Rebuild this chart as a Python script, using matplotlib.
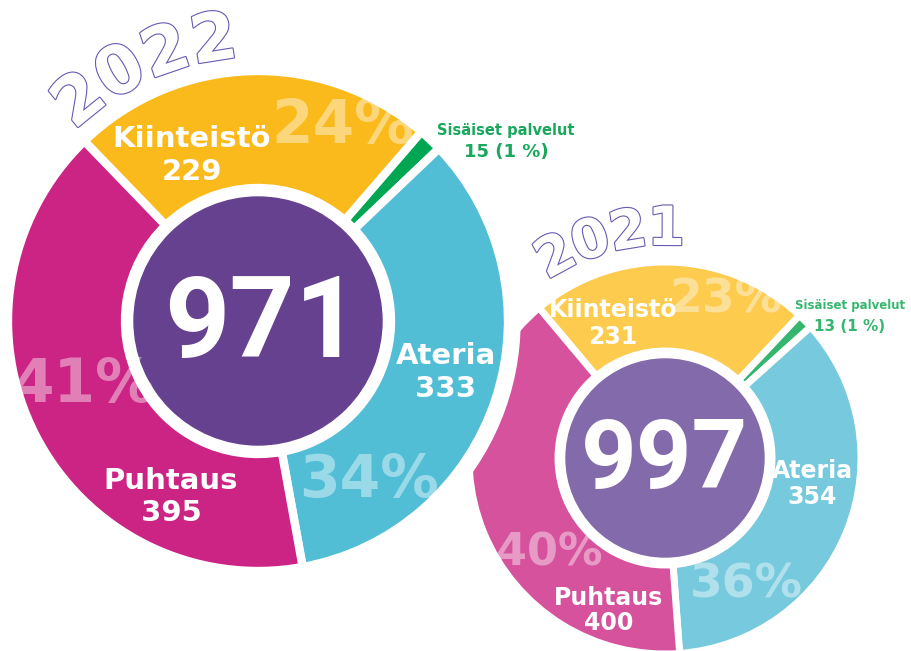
import numpy as np
import matplotlib
matplotlib.use('Agg')
import matplotlib.pyplot as plt
from matplotlib.patches import Circle
import matplotlib.patheffects as pe

W, H = 912, 651

# data
categories = ['Kiinteistö', 'Sisäiset palvelut', 'Ateria', 'Puhtaus']
values_2022 = [229, 15, 333, 395]
values_2021 = [231, 13, 354, 400]
pct_2022 = [24, 1, 34, 41]
pct_2021 = [23, 1, 36, 40]
total_2022 = 971
total_2021 = 997

colors_2022 = ['#FBBA1B', '#00A651', '#52BED6', '#CC2484']
colors_2021 = ['#FDCB4E', '#35B66F', '#77CADD', '#D6529D']
disc_2022 = '#65418F'
disc_2021 = '#836AAA'
outline = '#6A58B0'

FONT = 'DejaVu Sans'
BIG = 'Roboto'


def y(v):
    return H - v


def donut(ax, values, colors, cx, cy, r_out, r_in, r_disc, start, z, disc_col, lw):
    wedges, _ = ax.pie(values, colors=colors, startangle=start, counterclock=False,
                       radius=r_out, center=(cx, y(cy)),
                       wedgeprops=dict(width=r_out - r_in, edgecolor='white', linewidth=lw))
    for w in wedges:
        w.set_zorder(z)
    ax.add_patch(Circle((cx, y(cy)), r_disc, color=disc_col, zorder=z + 0.1))


def year_arc(ax, text, cx, cy, r, a0, step, size, z):
    for i, ch in enumerate(text):
        a = np.radians(a0 - i * step)
        ax.text(cx + r * np.cos(a), y(cy) + r * np.sin(a), ch, rotation=np.degrees(a) - 90,
                ha='center', va='center', fontsize=size, fontweight='bold', family=FONT,
                color='white', zorder=z,
                path_effects=[pe.withStroke(linewidth=1.6, foreground=outline)])


def lab(ax, x, yy, s, size, color='white', z=10, family=FONT):
    ax.text(x, y(yy), s, ha='center', va='center', fontsize=size, fontweight='bold',
            family=family, color=color, zorder=z)


fig = plt.figure(figsize=(W / 100, H / 100), dpi=100)
ax = fig.add_axes([0, 0, 1, 1])
ghost = (1, 1, 1, 0.42)

# 2021 (drawn behind)
donut(ax, values_2021, colors_2021, 665, 458, 196, 107, 99, 130, 1, disc_2021, 5)
year_arc(ax, '2021', 665, 458, 228, 118.5, 9.6, 39, 2)
lab(ax, 726, 300, f'{pct_2021[0]}%', 34, ghost, 2)
lab(ax, 746, 585, f'{pct_2021[2]}%', 34, ghost, 2)
lab(ax, 549, 553, f'{pct_2021[3]}%', 32, ghost, 2)
lab(ax, 613, 310, categories[0], 17, z=3)
lab(ax, 613, 337, str(values_2021[0]), 17, z=3)
lab(ax, 812, 471, categories[2], 17, z=3)
lab(ax, 812, 497, str(values_2021[2]), 17, z=3)
lab(ax, 609, 598, categories[3], 17, z=3)
lab(ax, 609, 623, str(values_2021[3]), 17, z=3)
lab(ax, 850, 306, categories[1], 8.5, '#35B66F', 3)
lab(ax, 850, 327, f'{values_2021[1]} ({pct_2021[1]} %)', 11, '#35B66F', 3)
lab(ax, 665, 462, str(total_2021), 70, z=3, family=BIG)

# white halo around 2022 chart
ax.add_patch(Circle((258, y(321)), 262, color='white', zorder=5))

# 2022
donut(ax, values_2022, colors_2022, 258, 321, 250, 133, 124, 134, 6, disc_2022, 6)
year_arc(ax, '2022', 258, 321, 283, 129, 10, 48, 7)
lab(ax, 343, 126, f'{pct_2022[0]}%', 43, ghost, 7)
lab(ax, 369, 480, f'{pct_2022[2]}%', 42, ghost, 7)
lab(ax, 84, 386, f'{pct_2022[3]}%', 43, ghost, 7)
lab(ax, 192, 139, categories[0], 21, z=8)
lab(ax, 192, 172, str(values_2022[0]), 21, z=8)
lab(ax, 446, 356, categories[2], 21, z=8)
lab(ax, 446, 389, str(values_2022[2]), 21, z=8)
lab(ax, 171, 481, categories[3], 21, z=8)
lab(ax, 171, 513, str(values_2022[3]), 21, z=8)
lab(ax, 506, 130, categories[1], 10.5, '#18A85C', 8)
lab(ax, 506, 152, f'{values_2022[1]} ({pct_2022[1]} %)', 13, '#18A85C', 8)
lab(ax, 262, 326, str(total_2022), 82, z=8, family=BIG)

ax.set_xlim(0, W)
ax.set_ylim(0, H)
ax.set_aspect('equal')
ax.axis('off')
fig.savefig('out.png', dpi=100)
